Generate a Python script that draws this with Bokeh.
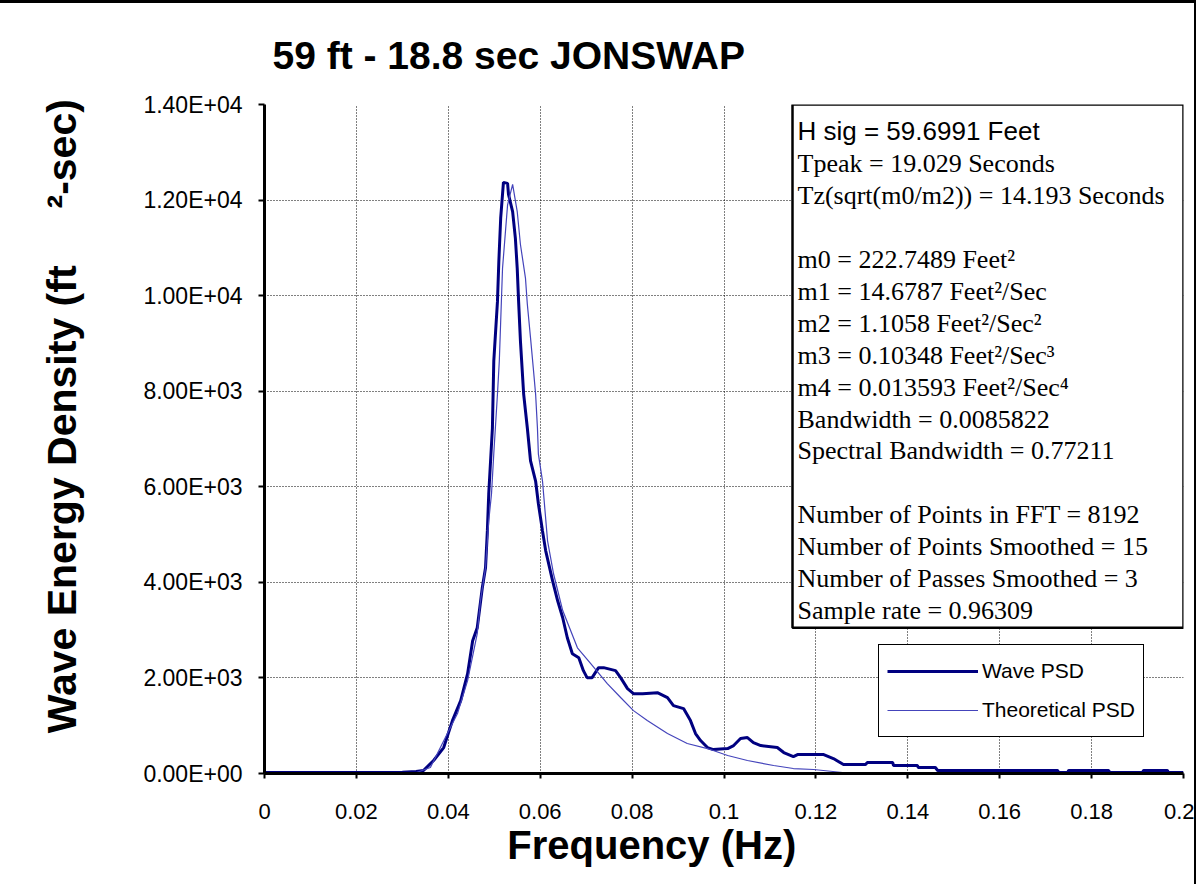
from bokeh.plotting import figure
from bokeh.models import Range1d, FixedTicker, Legend, LegendItem, BoxAnnotation, Label
from bokeh.embed import file_html
from bokeh.resources import INLINE

# ---------------- data ----------------
NB = "\u00a0"
title_text = "59 ft - 18.8 sec JONSWAP"
x_label = "Frequency (Hz)"
y_label = "Wave Energy Density (ft" + NB * 5 + "²-sec)"

x_ticks = [0, 0.02, 0.04, 0.06, 0.08, 0.1, 0.12, 0.14, 0.16, 0.18, 0.2]
x_tick_labels = ["0", "0.02", "0.04", "0.06", "0.08", "0.1", "0.12", "0.14", "0.16", "0.18", "0.2"]
y_ticks = [0, 2000, 4000, 6000, 8000, 10000, 12000, 14000]
y_tick_labels = ["0.00E+00", "2.00E+03", "4.00E+03", "6.00E+03", "8.00E+03",
                 "1.00E+04", "1.20E+04", "1.40E+04"]

wave_freq = [
    0.000, 0.010, 0.020, 0.030, 0.033, 0.0346, 0.0368, 0.0390, 0.0409, 0.0427,
    0.0442, 0.0453, 0.0463, 0.0474, 0.0481, 0.0485, 0.0488, 0.0496, 0.0499, 0.0507,
    0.0510, 0.0514, 0.0520, 0.0529, 0.0531, 0.0540, 0.0546, 0.0550, 0.0553, 0.0557,
    0.0564, 0.0572, 0.0579, 0.0590, 0.0596, 0.0605, 0.0612, 0.0627, 0.0638, 0.0649,
    0.0659, 0.0670, 0.0684, 0.0694, 0.0702, 0.0713, 0.0727, 0.0738, 0.0764, 0.0775,
    0.0790, 0.0803, 0.0823, 0.0855, 0.0877, 0.0890, 0.0912, 0.0927, 0.0938, 0.0949,
    0.0964, 0.0977, 0.1008, 0.1021, 0.1036, 0.1051, 0.1064, 0.1080, 0.1116, 0.1130,
    0.1151, 0.1160, 0.1217, 0.1238, 0.1260, 0.1308, 0.1312, 0.1367, 0.1369, 0.1421,
    0.1423, 0.1460, 0.1465, 0.1726, 0.1728, 0.1748, 0.1750, 0.1837, 0.1840, 0.1911,
    0.1913, 0.1965, 0.1967, 0.2000,
]
wave_psd = [
    20, 20, 20, 25, 40, 63, 272, 543, 1107, 1525,
    2090, 2779, 3050, 3886, 4304, 5077, 5850, 7230, 8630, 9880,
    10720, 11620, 12370, 12350, 12120, 11760, 11200, 10570, 9880, 9050,
    7940, 7230, 6540, 6120, 5650, 5077, 4660, 4030, 3615, 3260,
    2840, 2507, 2424, 2152, 2006, 2006, 2215, 2215, 2152, 2006,
    1776, 1671, 1671, 1692, 1588, 1421, 1358, 1107, 836, 690,
    543, 501, 522, 585, 731, 752, 648, 585, 543, 439,
    355, 397, 397, 313, 188, 188, 230, 230, 167, 167,
    125, 125, 63, 63, 21, 21, 63, 63, 21, 21,
    63, 63, 21, 21,
]

theo_freq = [
    0.000, 0.0300, 0.0331, 0.0361, 0.0398, 0.0420, 0.0442, 0.0463, 0.0470, 0.0481,
    0.0488, 0.0494, 0.0499, 0.0507, 0.0511, 0.0518, 0.0529, 0.0540, 0.0550, 0.0557,
    0.0568, 0.0572, 0.0579, 0.0585, 0.0590, 0.0594, 0.0596, 0.0605, 0.0616, 0.0629,
    0.0649, 0.0681, 0.0710, 0.0746, 0.0775, 0.0803, 0.0833, 0.0877, 0.0920, 0.0964,
    0.1008, 0.1051, 0.1108, 0.1151, 0.1195, 0.1258, 0.1300, 0.1347, 0.1360, 0.2000,
]
theo_psd = [
    0, 0, 20, 125, 836, 1254, 1943, 2925, 3615, 4304,
    5286, 5850, 6690, 7940, 8630, 10570, 11900, 12330, 11760, 11070,
    10360, 9820, 9110, 8480, 7940, 7230, 6690, 6120, 4870, 4180,
    3410, 2630, 2300, 1880, 1590, 1316, 1107, 836, 627, 522,
    376, 272, 167, 104, 84, 21, 10, -20, 0, 0,
]

series_names = ["Wave PSD", "Theoretical PSD"]

# text box contents; "" marks an empty line
stats_lines = [
    "H sig = 59.6991 Feet",
    "Tpeak =  19.029 Seconds",
    "Tz(sqrt(m0/m2)) = 14.193 Seconds",
    "",
    "m0 = 222.7489 Feet²",
    "m1 = 14.6787 Feet²/Sec",
    "m2 = 1.1058 Feet²/Sec²",
    "m3 = 0.10348 Feet²/Sec³",
    "m4 = 0.013593 Feet²/Sec⁴",
    "Bandwidth = 0.0085822",
    "Spectral Bandwidth = 0.77211",
    "",
    "Number of Points in FFT = 8192",
    "Number of Points Smoothed = 15",
    "Number of Passes Smoothed = 3",
    "Sample rate = 0.96309",
]

# ---------------- layout / style ----------------
SANS = "Liberation Sans"
SERIF = "Liberation Serif"
W, H = 1196, 884
# page-pixel calibration of the plotting frame (for annotation placement only)
FX0, FX1, FY0, FY1 = 264, 1183, 773, 103
XMAX, YMAX = 0.2, 14000


def x_of(px):
    return (px - FX0) / (FX1 - FX0) * XMAX


def y_of(py):
    return (FY0 - py) / (FY0 - FY1) * YMAX


FIRST_BASELINE, LINE_STEP = 130, 32

p = figure(width=W, height=H, x_range=Range1d(0, XMAX), y_range=Range1d(0, YMAX),
           output_backend="svg", toolbar_location=None,
           min_border_left=264, min_border_right=13, min_border_top=100, min_border_bottom=114)
p.styles = {"border-top": "3px solid black", "border-right": "2px solid black"}
p.background_fill_color = "white"
p.border_fill_color = "white"
p.outline_line_color = None

p.title.text = title_text
p.title.text_color = "black"
p.title.text_font = SANS
p.title.text_font_size = "39px"
p.title.text_font_style = "bold"
p.title.align = "left"
p.title.offset = 8
p.title.standoff = 56

# axes
p.xaxis.ticker = FixedTicker(ticks=x_ticks)
p.yaxis.ticker = FixedTicker(ticks=y_ticks)
p.xaxis.major_label_overrides = dict(zip(x_ticks, x_tick_labels))
p.yaxis.major_label_overrides = dict(zip(y_ticks, y_tick_labels))
for ax in (p.xaxis[0], p.yaxis[0]):
    ax.axis_line_color = "black"
    ax.axis_line_width = 3
    ax.major_tick_line_color = "black"
    ax.major_tick_line_width = 2
    ax.major_tick_in = 0
    ax.minor_tick_line_color = None
    ax.major_label_text_font = SANS
    ax.major_label_text_color = "black"
    ax.axis_label_text_font = SANS
    ax.axis_label_text_font_style = "bold"
    ax.axis_label_text_color = "black"

# trailing / leading no-break spaces shift the centred axis titles like the original
p.xaxis.axis_label = x_label + NB * 13
p.xaxis.axis_label_text_font_size = "40px"
p.xaxis.major_tick_out = 5
p.xaxis.major_label_text_font_size = "22px"
p.xaxis.major_label_standoff = 25
p.xaxis.axis_label_standoff = 1

p.yaxis.axis_label = NB * 4 + y_label
p.yaxis.axis_label_text_font_size = "41px"
p.yaxis.major_tick_out = 6
p.yaxis.major_label_text_font_size = "23px"
p.yaxis.major_label_standoff = 16
p.yaxis.axis_label_standoff = 55

# grid
p.xgrid.ticker = FixedTicker(ticks=x_ticks)
p.ygrid.ticker = FixedTicker(ticks=y_ticks)
for g in (p.xgrid[0], p.ygrid[0]):
    g.grid_line_color = "black"
    g.grid_line_alpha = 1.0
    g.grid_line_dash = "1 2"
    g.grid_line_width = 1

# series
r_wave = p.line(wave_freq, wave_psd, line_color="#000080", line_width=3)
r_theo = p.line(theo_freq, theo_psd, line_color="#4444bb", line_width=1.2)

# statistics box
box = BoxAnnotation(left=x_of(792), right=XMAX, top=YMAX, bottom=y_of(627),
                    fill_color="white", fill_alpha=1.0,
                    line_color="black", line_alpha=1.0, line_width=2.5)
p.add_layout(box)
for i, txt in enumerate(stats_lines):
    if not txt:
        continue
    p.add_layout(Label(x=x_of(797), y=y_of(FIRST_BASELINE + LINE_STEP * i), text=txt,
                       text_baseline="alphabetic", text_align="left",
                       text_font=SANS if i == 0 else SERIF,
                       text_font_size="26px",
                       text_color="black"))

# legend
legend = Legend(items=[LegendItem(label=series_names[0], renderers=[r_wave]),
                       LegendItem(label=series_names[1], renderers=[r_theo])],
                location=(614, 36), orientation="vertical",
                padding=8, spacing=3, margin=0,
                glyph_width=91, glyph_height=36, label_height=36, label_standoff=4,
                label_text_font=SANS, label_text_font_size="21px", label_text_color="black",
                border_line_color="black", border_line_alpha=1.0, border_line_width=1.5,
                background_fill_color="white", background_fill_alpha=1.0)
p.add_layout(legend)

open("out.html", "w").write(file_html(p, INLINE, title=title_text))
